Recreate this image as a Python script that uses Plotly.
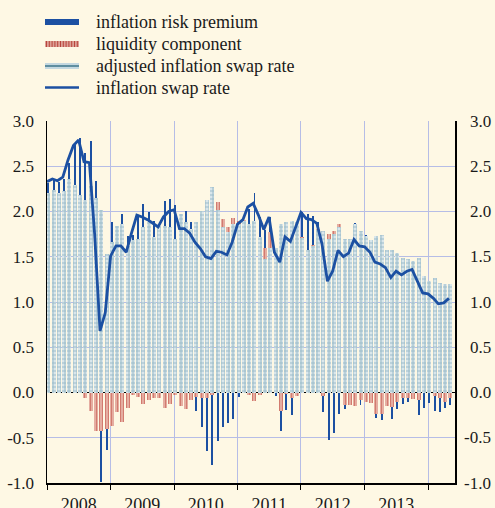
import pandas as pd
import plotly.graph_objects as go

# monthly observations, Jan 2008 - May 2014
months = pd.date_range("2008-01-01", periods=77, freq="MS")

swap_rate = [2.33, 2.36, 2.34, 2.38, 2.57, 2.73, 2.79, 2.55, 2.54, 1.75, 0.68, 0.88,
             1.51, 1.62, 1.62, 1.55, 1.76, 1.96, 1.94, 1.91, 1.87, 1.83, 1.94, 2.00,
             2.02, 1.81, 1.81, 1.76, 1.66, 1.59, 1.50, 1.48, 1.56, 1.55, 1.52, 1.66,
             1.86, 1.91, 2.05, 2.09, 1.96, 1.80, 1.94, 1.55, 1.44, 1.72, 1.67, 1.84,
             1.99, 1.92, 1.91, 1.87, 1.64, 1.23, 1.34, 1.57, 1.50, 1.54, 1.69, 1.62,
             1.61, 1.55, 1.44, 1.42, 1.38, 1.27, 1.34, 1.30, 1.34, 1.36, 1.23, 1.10,
             1.09, 1.04, 0.98, 0.99, 1.04]

adjusted = [2.21, 2.24, 2.20, 2.23, 2.36, 2.29, 2.18, 2.13, 2.28, 2.15, 2.02, 1.53,
            1.66, 1.84, 1.86, 1.62, 1.68, 1.70, 1.83, 1.88, 1.72, 1.84, 1.84, 1.83,
            1.70, 1.97, 1.88, 1.81, 1.88, 2.01, 2.13, 2.27, 2.02, 1.83, 1.77, 1.86,
            1.86, 1.90, 1.86, 1.90, 1.72, 1.47, 1.60, 1.60, 1.86, 1.88, 1.90, 1.88,
            1.71, 1.57, 1.62, 1.80, 1.79, 1.70, 1.75, 1.83, 1.70, 1.70, 1.86, 1.79,
            1.73, 1.68, 1.73, 1.74, 1.57, 1.57, 1.54, 1.49, 1.47, 1.45, 1.49, 1.29,
            1.23, 1.27, 1.21, 1.20, 1.20]

liquidity = [0.0, 0.0, 0.0, 0.0, 0.0, -0.01, -0.01, -0.06, -0.20, -0.43, -0.43, -0.40,
             -0.37, -0.22, -0.33, -0.17, -0.03, -0.05, -0.13, -0.08, -0.06, -0.06, -0.17, -0.13,
             -0.03, -0.15, -0.18, -0.08, -0.05, -0.06, -0.06, -0.03, 0.08, 0.09, 0.06, 0.07,
             0.04, 0.01, -0.03, -0.09, -0.03, 0.13, 0.17, -0.01, -0.20, -0.02, -0.06, -0.04,
             0.01, 0.01, 0.01, 0.01, -0.04, 0.05, 0.03, 0.03, -0.14, -0.14, -0.15, -0.08,
             -0.10, -0.12, -0.24, -0.24, -0.15, -0.16, -0.10, -0.06, -0.06, -0.07, -0.08, 0.0,
             -0.01, -0.04, -0.06, -0.10, -0.06]

risk_premium = [0.11, 0.12, 0.13, 0.13, 0.18, 0.44, 0.63, 0.52, 0.50, 0.19, -0.56, -0.24,
                0.22, 0.0, 0.11, 0.11, 0.06, 0.25, 0.25, 0.11, 0.18, 0.0, 0.28, 0.31,
                0.37, 0.0, 0.13, 0.07, -0.15, -0.32, -0.59, -0.77, -0.54, -0.38, -0.34, -0.29,
                -0.05, 0.0, 0.17, 0.31, 0.22, 0.20, 0.17, -0.03, -0.23, -0.17, -0.19, 0.0,
                0.28, 0.39, 0.32, 0.07, -0.17, -0.53, -0.45, -0.24, -0.04, 0.0, 0.01, -0.06,
                0.01, 0.0, -0.04, -0.06, 0.0, -0.13, -0.08, -0.07, -0.04, 0.0, -0.17, -0.17,
                -0.11, -0.16, -0.16, -0.07, -0.08]

y_ticks = [-1.0, -0.5, 0.0, 0.5, 1.0, 1.5, 2.0, 2.5, 3.0]
y_labels = ["-1.0", "-0.5", "0.0", "0.5", "1.0", "1.5", "2.0", "2.5", "3.0"]

legend_names = ["inflation risk premium", "liquidity component",
                "adjusted inflation swap rate", "inflation swap rate"]

BG = "#fef8e4"
GRID = "#b6bde6"
BLUE = "#1c50a2"
FONT = "Liberation Serif"
DAY = 86400000

fig = go.Figure()

fig.add_trace(go.Bar(
    x=months, y=adjusted, width=23 * DAY, offset=-4 * DAY,
    marker=dict(color="#d6e4ea", line=dict(width=0),
                pattern=dict(shape="+", bgcolor="#d9e6eb", fgcolor="#5d91a6",
                             size=4, solidity=0.45)),
    showlegend=False, hoverinfo="skip"))
fig.add_trace(go.Bar(
    x=months, y=liquidity, width=23 * DAY, offset=-4 * DAY,
    marker=dict(color="#e3a89c", line=dict(width=0),
                pattern=dict(shape="|", bgcolor="#e8b7ab", fgcolor="#bb3f33",
                             size=3, solidity=0.45)),
    showlegend=False, hoverinfo="skip"))
fig.add_trace(go.Bar(
    x=months, y=risk_premium, width=11 * DAY, offset=2 * DAY,
    marker=dict(color=BLUE, line=dict(width=0)),
    showlegend=False, hoverinfo="skip"))
fig.add_trace(go.Scatter(
    x=months, y=swap_rate, mode="lines", line=dict(color=BLUE, width=2.8),
    yaxis="y2", showlegend=False, hoverinfo="skip"))

# legend drawn by hand: wide flat swatches like the original
W, H, L, R, T, B = 495, 508, 47, 40, 121, 25
pw, ph = W - L - R, H - T - B

def px(x):
    return (x - L) / pw

def py(y):
    return (H - B - y) / ph

rows = [22, 44, 66, 87.5]
shapes = []
annotations = []
swatch_fill = [BLUE, "#dca096", "#c4d8e0", None]
for i, (name, y) in enumerate(zip(legend_names, rows)):
    if swatch_fill[i] is not None:
        shapes.append(dict(type="rect", xref="paper", yref="paper",
                           x0=px(45), x1=px(79), y0=py(y + 3), y1=py(y - 3),
                           fillcolor=swatch_fill[i], line=dict(width=0)))
    if i == 1:
        for k in range(12):
            xx = 46.5 + k * 2.8
            shapes.append(dict(type="line", xref="paper", yref="paper",
                               x0=px(xx), x1=px(xx), y0=py(y + 3), y1=py(y - 3),
                               line=dict(color="#b8453b", width=1)))
    if i == 2:
        shapes.append(dict(type="line", xref="paper", yref="paper",
                           x0=px(45), x1=px(79), y0=py(y), y1=py(y),
                           line=dict(color="#5f8ea0", width=2)))
    if i == 3:
        shapes.append(dict(type="line", xref="paper", yref="paper",
                           x0=px(45), x1=px(79), y0=py(y), y1=py(y),
                           line=dict(color=BLUE, width=2.5)))
    annotations.append(dict(text=name, xref="paper", yref="paper", x=px(94), y=py(y),
                            xanchor="left", yanchor="middle", showarrow=False,
                            font=dict(family=FONT, size=18, color="#1a1a1a")))

ytick_font = dict(family=FONT, size=17, color="#1a1a1a")
xtick_font = dict(family=FONT, size=18, color="#1a1a1a")

# right-hand scale labels are right-aligned at the page edge in the original
for v, lab in zip(y_ticks, y_labels):
    annotations.append(dict(text=lab, xref="paper", yref="y", x=px(493), y=v,
                            xanchor="right", yanchor="middle", showarrow=False,
                            font=ytick_font))

fig.update_layout(
    width=W, height=H,
    margin=dict(l=L, r=R, t=T, b=B, pad=0),
    paper_bgcolor=BG, plot_bgcolor=BG,
    barmode="relative", bargap=0,
    showlegend=False, hovermode=False,
    shapes=shapes, annotations=annotations,
    xaxis=dict(type="date", range=["2008-01-01", "2014-06-05"],
               tick0="2008-01-01", dtick="M12", tickformat="%Y",
               ticklabelmode="period", ticks="outside", ticklen=5,
               tickcolor="#000000", showgrid=True, gridcolor=GRID, gridwidth=1,
               showline=True, linecolor="#000000", linewidth=1.5,
               tickfont=xtick_font, automargin=False),
    yaxis=dict(range=[-1, 3], tickvals=y_ticks, ticktext=y_labels,
               showgrid=True, gridcolor=GRID, gridwidth=1,
               zeroline=True, zerolinecolor="#000000", zerolinewidth=1.5,
               showline=True, linecolor="#000000", linewidth=1.5,
               ticks="", ticklabelstandoff=8, tickfont=ytick_font, automargin=False),
    yaxis2=dict(range=[-1, 3], overlaying="y", side="right",
                showgrid=False, zeroline=False, showticklabels=False,
                showline=True, linecolor="#000000", linewidth=1.5,
                ticks="", automargin=False),
)

# drop the page's default body margin so the figure sits at the window corner
page_css = ("document.body.style.margin='0';"
            "document.body.style.background='" + BG + "';"
            "document.body.style.overflow='hidden';")
fig.write_html("out.html", post_script=page_css,
               config={"displayModeBar": False, "staticPlot": True})
